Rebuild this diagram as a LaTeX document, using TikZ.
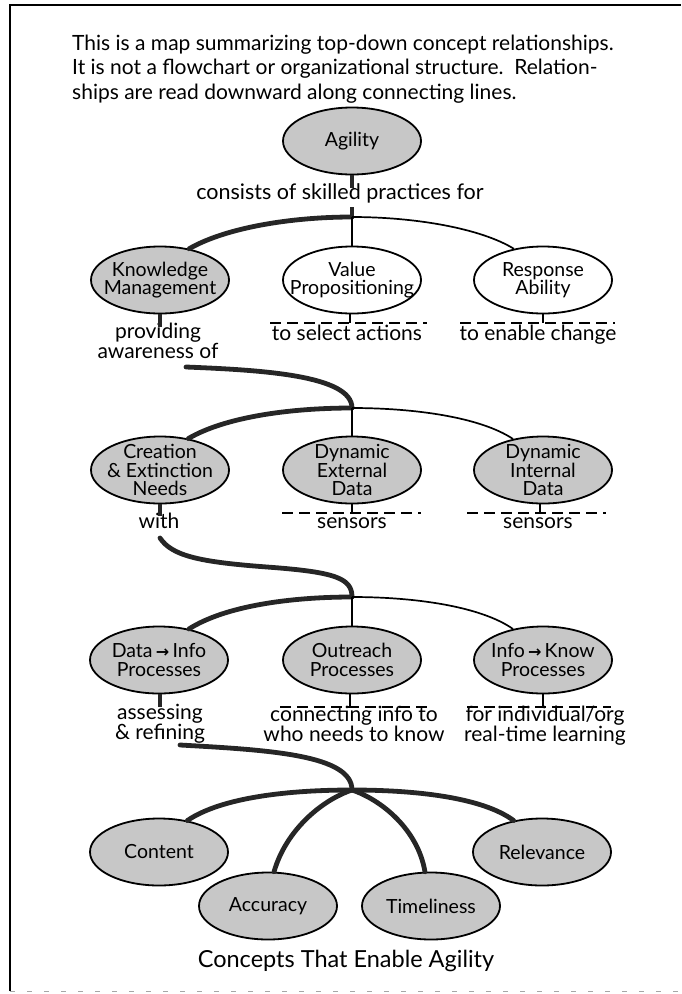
\documentclass[tikz,border=0pt]{standalone}
\usepackage{fontspec}
\setmainfont{Lato}
\newfontfamily\arrowfont{DejaVu Sans}
\newcommand{\smallarrow}{\,{\arrowfont\bfseries\fontsize{16}{16}\selectfont →}\,}
\usetikzlibrary{shapes.geometric}

\begin{document}
\begin{tikzpicture}[x=1pt,y=-1pt,
  concept/.style={ellipse, draw=black, line width=1.8pt, minimum width=138pt,
    minimum height=67pt, inner xsep=-30pt, inner ysep=-10pt, align=center,
    font=\fontsize{19.5}{18.5}\selectfont},
  greyfill/.style={concept, fill=black!22},
  openconcept/.style={concept, fill=white},
  lbl/.style={inner sep=0pt, align=center, font=\fontsize{21}{18.5}\selectfont},
  titleline/.style={inner sep=0pt, anchor=base west, font=\fontsize{21}{25}\selectfont},
  thinlink/.style={line width=1.7pt},
  heavy/.style={line width=4.8pt, black!85, line cap=round},
  stubline/.style={line width=4.8pt, black!85},
  dashrule/.style={line width=1.7pt, dash pattern=on 11pt off 6pt},
]
\useasboundingbox (0,0) rectangle (681,994);

% page frame
\draw[line width=2.2pt] (10,991) -- (10,5) -- (681,5);
\draw[black!35, line width=1pt, dash pattern=on 5pt off 12pt] (10,991) -- (681,991);

% heading
\node[titleline] (h1) at (72,50) {This is a map summarizing top-down concept relationships.};
\node[titleline] (h2) at (72,74.5) {It is not a flowchart or organizational structure.\ \ Relation-};
\node[titleline] (h3) at (72,99) {ships are read downward along connecting lines.};

% ---- top concept
\node[greyfill] (agility) at (352,141) {Agility};
\node[lbl, anchor=base, font=\fontsize{21.5}{18.5}\selectfont] (consists) at (340,199.5) {consists of skilled practices for};
\coordinate (j1) at (352,217);
\draw[stubline] (agility.south) -- (352,188);
\draw[stubline] (352,207) -- (j1);

% ---- level 1
\node[greyfill] (km) at (160,280) {Knowledge\\Management};
\node[openconcept] (vp) at (352,280) {Value\\Propositioning};
\node[openconcept] (ra) at (543,280) {Response\\Ability};

\draw[heavy] (j1) .. controls (290,217) and (225,228) .. (km.47);
\draw[thinlink] (j1) .. controls (414,217) and (480,228) .. (ra.133);
\draw[thinlink] (j1) -- (vp.north);

\node[lbl] (aware) at (158,341) {providing\\awareness of};
\draw[stubline] (km.south) -- (160,327);

\coordinate (vpd) at (350,323);
\draw[thinlink] (vp.south -| vpd) -- (vpd);
\draw[dashrule] (270,323) -- (427,323);
\node[lbl, anchor=base] (select) at (347,340.5) {to select actions};

\coordinate (rad) at (543,323);
\draw[thinlink] (ra.south) -- (rad);
\draw[dashrule] (460,323) -- (615,323);
\node[lbl, anchor=base] (enable) at (538,340.5) {to enable change};

% ---- level 2
\coordinate (s1) at (186,367);
\coordinate (j2) at (352,408);
\draw[heavy] (s1) .. controls (260,370) and (352,375) .. (j2);

\node[greyfill] (cen) at (160,470) {Creation\\\& Extinction\\Needs};
\node[greyfill] (ded) at (352,470) {Dynamic\\External\\Data};
\node[greyfill] (did) at (543,470) {Dynamic\\Internal\\Data};

\draw[heavy] (j2) .. controls (290,408) and (225,417) .. (cen.48);
\draw[thinlink] (j2) .. controls (414,408) and (480,417) .. (did.134);
\draw[thinlink] (j2) -- (ded.north);

\node[lbl, anchor=base] (with) at (159,528.5) {with};
\draw[stubline] (cen.south) -- (160,516);

\coordinate (dedd) at (352,513);
\draw[thinlink] (ded.south) -- (dedd);
\draw[dashrule] (282,513) -- (421,513);
\node[lbl, anchor=base] (sens1) at (352,528.5) {sensors};

\coordinate (didd) at (540,513);
\draw[thinlink] (did.south -| didd) -- (didd);
\draw[dashrule] (467,513) -- (606,513);
\node[lbl, anchor=base] (sens2) at (538,528.5) {sensors};

% ---- level 3
\coordinate (s2) at (160,538);
\coordinate (j3) at (352,597);
\draw[heavy] (s2) .. controls (172,556) and (200,562) .. (267,567)
                  .. controls (335,572) and (352,578) .. (j3);

\node[greyfill] (dip) at (159,660) {Data\smallarrow Info\\Processes};
\node[greyfill] (orp) at (352,660) {Outreach\\Processes};
\node[greyfill] (ikp) at (543,660) {Info\smallarrow Know\\Processes};

\draw[heavy] (j3) .. controls (290,597) and (225,606) .. (dip.46);
\draw[thinlink] (j3) .. controls (414,597) and (480,606) .. (ikp.134);
\draw[thinlink] (j3) -- (orp.north);

\node[lbl] (assess) at (160,724) {assessing\\\& refining};
\draw[stubline] (dip.south -| 160,0) -- (160,707);

\coordinate (orpd) at (350,707);
\draw[thinlink] (orp.south -| orpd) -- (orpd);
\draw[dashrule] (280,707) -- (427,707);
\node[lbl] (connect) at (354,724) {connecting info to\\who needs to know};

\coordinate (ikpd) at (543,707);
\draw[thinlink] (ikp.south) -- (ikpd);
\draw[dashrule] (467,707) -- (611,707);
\node[lbl] (learn) at (545,726) {for individual/org\\real-time learning};

% ---- level 4
\coordinate (s3) at (180,745);
\coordinate (j4) at (352,790);
\draw[heavy] (s3) .. controls (270,750) and (352,755) .. (j4);

\node[greyfill] (content) at (159,852) {Content};
\node[greyfill] (relev) at (542,852) {Relevance};
\node[greyfill] (accur) at (268,906) {Accuracy};
\node[greyfill] (timel) at (431,906) {Timeliness};

\draw[heavy] (j4) .. controls (290,790) and (222,797) .. (content.48);
\draw[heavy] (j4) .. controls (414,790) and (482,797) .. (relev.132);
\draw[heavy] (j4) .. controls (322,800) and (286,830) .. (accur.80);
\draw[heavy] (j4) .. controls (382,800) and (418,830) .. (timel.100);

\node[inner sep=0pt, anchor=base, font=\fontsize{23.5}{26}\selectfont] (caption) at (346,967) {Concepts That Enable Agility};
\end{tikzpicture}
\end{document}
